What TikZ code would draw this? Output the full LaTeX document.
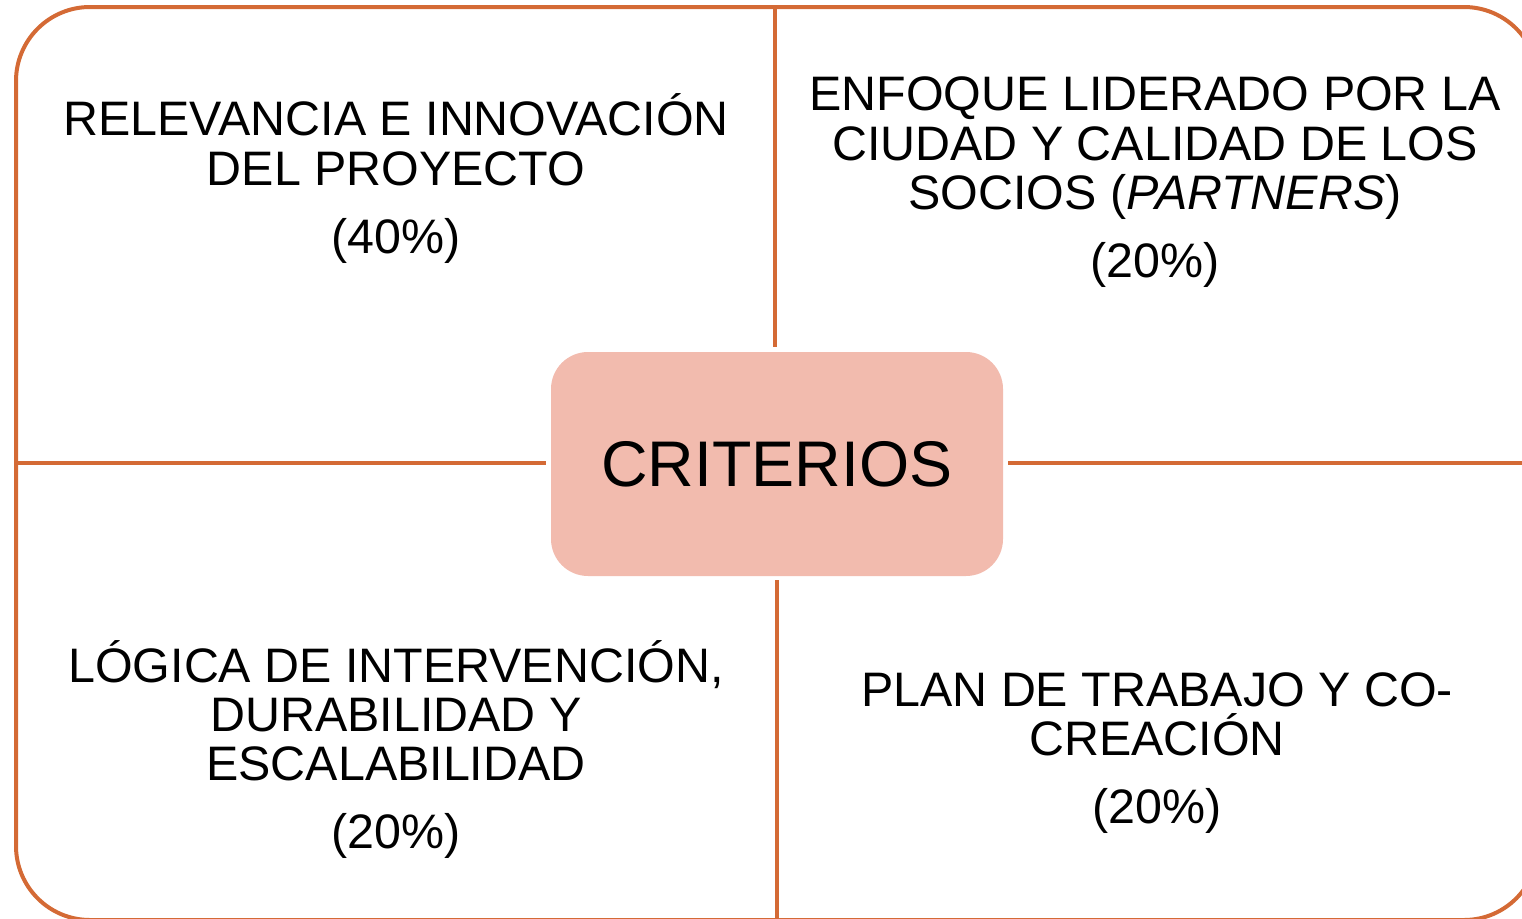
\documentclass[tikz,border=0pt]{standalone}
\usepackage{fontspec}
\setmainfont{Liberation Sans}
\definecolor{edgecol}{HTML}{D46A35}
\definecolor{critfill}{HTML}{F2BBAE}
\begin{document}
\begin{tikzpicture}[x=1pt,y=-1pt,
  frame/.style={draw=edgecol,line width=4pt,rounded corners=74pt},
  divider/.style={draw=edgecol,line width=4pt},
  critbox/.style={fill=critfill,rounded corners=37pt,minimum width=452pt,minimum height=224pt,inner sep=0pt,font=\fontsize{64.5}{70}\selectfont},
  txt/.style={anchor=base,inner sep=0pt,font=\fontsize{48.4}{55}\selectfont}]
\useasboundingbox (0,0) rectangle (1522,918);
\path[frame] (16,7) rectangle (1538,920);
\node[critbox] (crit) at (777,464) {CRITERIOS};
\coordinate (ftop) at (775,7);
\coordinate (fbot) at (777,920);
\coordinate (fleft) at (16,463);
\coordinate (fright) at (1538,463);
\draw[divider,shorten >=5pt] (ftop) -- (ftop |- crit.north);
\draw[divider,shorten >=4pt] (fbot) -- (fbot |- crit.south);
\draw[divider,shorten >=5pt] (fleft) -- (crit.west |- fleft);
\draw[divider,shorten >=5pt] (fright) -- (crit.east |- fright);
% top left
\node[txt] (tl1) at (396,135) {RELEVANCIA E INNOVACIÓN};
\node[txt] (tl2) at (396,185) {DEL PROYECTO};
\node[txt] (tl3) at (396,253) {(40\%)};
% top right
\node[txt] (tr1) at (1155,110) {ENFOQUE LIDERADO POR LA};
\node[txt] (tr2) at (1155,160) {CIUDAD Y CALIDAD DE LOS};
\node[txt] (tr3) at (1155,209) {SOCIOS ({\itshape PARTNERS})};
\node[txt] (tr4) at (1155,277) {(20\%)};
% bottom left
\node[txt] (bl1) at (396,682) {LÓGICA DE INTERVENCIÓN,};
\node[txt] (bl2) at (396,731) {DURABILIDAD Y};
\node[txt] (bl3) at (396,780) {ESCALABILIDAD};
\node[txt] (bl4) at (396,848) {(20\%)};
% bottom right
\node[txt] (br1) at (1157,706) {PLAN DE TRABAJO Y CO-};
\node[txt] (br2) at (1157,755) {CREACIÓN};
\node[txt] (br3) at (1157,823) {(20\%)};
\end{tikzpicture}
\end{document}
